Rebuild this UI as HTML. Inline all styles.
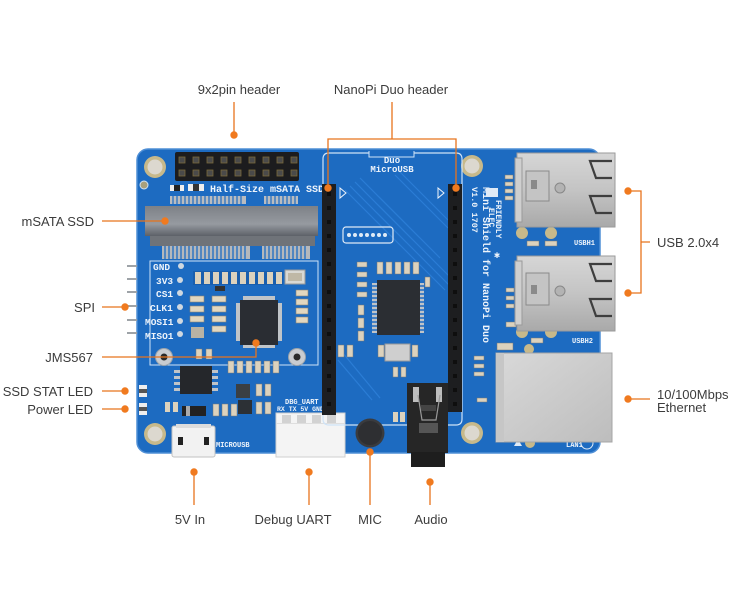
<!DOCTYPE html>
<html><head><meta charset="utf-8"><style>
html,body{margin:0;padding:0;background:#fff;}
svg{display:block;}
.lb{font-family:"Liberation Sans",sans-serif;font-size:13px;fill:#3c3c3c;}
.sk{font-family:"Liberation Mono",monospace;font-weight:bold;fill:#eef4fb;}
</style></head><body>
<svg width="740" height="600" viewBox="0 0 740 600" xmlns="http://www.w3.org/2000/svg">
<defs>
<linearGradient id="metal" x1="0" y1="0" x2="0" y2="1">
<stop offset="0" stop-color="#d6d6d6"/><stop offset="0.5" stop-color="#c4c4c4"/><stop offset="1" stop-color="#a9a9a9"/>
</linearGradient>
<linearGradient id="eth" x1="0" y1="0" x2="1" y2="1">
<stop offset="0" stop-color="#d9d9d9"/><stop offset="1" stop-color="#bdbdbd"/>
</linearGradient>
<linearGradient id="msata" x1="0" y1="0" x2="0" y2="1">
<stop offset="0" stop-color="#7d8187"/><stop offset="0.6" stop-color="#969aa0"/><stop offset="1" stop-color="#5d6168"/>
</linearGradient>
</defs>
<rect width="740" height="600" fill="#fff"/>

<!-- board -->
<rect x="137" y="149" width="463" height="304" rx="11" fill="#1d6bc1" stroke="#4f8fd6" stroke-width="1.5"/>
<!-- diagonal traces -->
<g stroke="#2f82db" stroke-width="1.2" opacity="0.8">
<line x1="345" y1="190" x2="445" y2="290"/><line x1="350" y1="186" x2="450" y2="286"/><line x1="355" y1="182" x2="455" y2="282"/>
<line x1="360" y1="178" x2="440" y2="258"/><line x1="395" y1="175" x2="448" y2="228"/><line x1="400" y1="172" x2="448" y2="220"/>
<line x1="338" y1="360" x2="372" y2="400"/><line x1="342" y1="352" x2="380" y2="398"/>
</g>

<!-- side SPI pins -->
<g fill="#9ea3a8">
<rect x="127" y="265" width="10" height="2"/><rect x="127" y="278" width="10" height="2"/><rect x="127" y="291" width="10" height="2"/>
<rect x="127" y="305" width="10" height="2"/><rect x="127" y="319" width="10" height="2"/><rect x="127" y="332" width="10" height="2"/>
</g>

<!-- mounting holes -->
<g>
<circle cx="155" cy="167" r="11" fill="#c7b98b"/><circle cx="155" cy="167" r="7.5" fill="#dcd8cf"/>
<circle cx="472" cy="166" r="11" fill="#c7b98b"/><circle cx="472" cy="166" r="7.5" fill="#dcd8cf"/>
<circle cx="155" cy="434" r="11" fill="#c7b98b"/><circle cx="155" cy="434" r="7.5" fill="#dcd8cf"/>
<circle cx="472" cy="433" r="11" fill="#c7b98b"/><circle cx="472" cy="433" r="7.5" fill="#dcd8cf"/>
<circle cx="144" cy="185" r="4" fill="#a8a07c" stroke="#cfe3f7" stroke-width="1"/>
</g>

<!-- 9x2 header -->
<rect x="175" y="152" width="124" height="29" rx="2" fill="#1c1c1e"/>
<g fill="#4a4a4a" stroke="#7a6a3a" stroke-width="0.8">
<rect x="179" y="157" width="6" height="6"/><rect x="193" y="157" width="6" height="6"/><rect x="207" y="157" width="6" height="6"/><rect x="221" y="157" width="6" height="6"/><rect x="235" y="157" width="6" height="6"/><rect x="249" y="157" width="6" height="6"/><rect x="263" y="157" width="6" height="6"/><rect x="277" y="157" width="6" height="6"/><rect x="291" y="157" width="6" height="6"/>
<rect x="179" y="170" width="6" height="6"/><rect x="193" y="170" width="6" height="6"/><rect x="207" y="170" width="6" height="6"/><rect x="221" y="170" width="6" height="6"/><rect x="235" y="170" width="6" height="6"/><rect x="249" y="170" width="6" height="6"/><rect x="263" y="170" width="6" height="6"/><rect x="277" y="170" width="6" height="6"/><rect x="291" y="170" width="6" height="6"/>
</g>
<text x="210" y="192" class="sk" font-size="10">Half-Size mSATA SSD</text>
<g><rect x="170" y="185" width="14" height="6" fill="#eee"/><rect x="174" y="185" width="6" height="6" fill="#222"/>
<rect x="188" y="184" width="16" height="7" fill="#eee"/><rect x="193" y="184" width="6" height="7" fill="#333"/></g>

<!-- mSATA connector -->
<g fill="#b9bcc0">
<rect x="170" y="196" width="76" height="8"/><rect x="264" y="196" width="34" height="8"/>
</g>
<g stroke="#1d6bc1" stroke-width="1.2">
<path d="M173 196v8M177 196v8M181 196v8M185 196v8M189 196v8M193 196v8M197 196v8M201 196v8M205 196v8M209 196v8M213 196v8M217 196v8M221 196v8M225 196v8M229 196v8M233 196v8M237 196v8M241 196v8M267 196v8M271 196v8M275 196v8M279 196v8M283 196v8M287 196v8M291 196v8M295 196v8"/>
</g>
<rect x="145" y="206" width="173" height="30" fill="url(#msata)"/>
<rect x="150" y="236" width="165" height="10" fill="#6f7379"/>
<g fill="#b5b8bc">
<rect x="162" y="246" width="88" height="13"/><rect x="262" y="246" width="48" height="13"/>
</g>
<g stroke="#1d6bc1" stroke-width="1.3">
<path d="M165 246v13M169 246v13M173 246v13M177 246v13M181 246v13M185 246v13M189 246v13M193 246v13M197 246v13M201 246v13M205 246v13M209 246v13M213 246v13M217 246v13M221 246v13M225 246v13M229 246v13M233 246v13M237 246v13M241 246v13M245 246v13M265 246v13M269 246v13M273 246v13M277 246v13M281 246v13M285 246v13M289 246v13M293 246v13M297 246v13M301 246v13M305 246v13"/>
</g>

<!-- silkscreen box around JMS area -->
<rect x="150" y="261" width="168" height="104" fill="none" stroke="#cfe3f7" stroke-width="1"/>

<!-- SPI labels -->
<g class="sk" font-size="9.5">
<text x="153" y="270">GND</text><text x="156" y="284">3V3</text><text x="156" y="297">CS1</text>
<text x="150" y="311">CLK1</text><text x="145" y="325">MOSI1</text><text x="145" y="339">MISO1</text>
</g>
<g fill="#cfd8e0">
<circle cx="181" cy="266" r="3"/><circle cx="180" cy="280" r="3"/><circle cx="180" cy="293" r="3"/>
<circle cx="180" cy="307" r="3"/><circle cx="180" cy="321" r="3"/><circle cx="180" cy="334" r="3"/>
</g>

<!-- passive row under mSATA -->
<g>
<rect x="193" y="271" width="90" height="14" fill="#1a5fae"/>
<g fill="#dcd2bd">
<rect x="195" y="272" width="6" height="12"/><rect x="204" y="272" width="6" height="12"/><rect x="213" y="272" width="6" height="12"/><rect x="222" y="272" width="6" height="12"/><rect x="231" y="272" width="6" height="12"/><rect x="240" y="272" width="6" height="12"/><rect x="249" y="272" width="6" height="12"/><rect x="258" y="272" width="6" height="12"/><rect x="267" y="272" width="6" height="12"/><rect x="276" y="272" width="6" height="12"/>
</g>
<rect x="285" y="270" width="20" height="14" fill="#d9d9d4" stroke="#999"/>
<rect x="288" y="273" width="14" height="8" fill="#bfb8a6"/>
</g>
<!-- left caps column -->
<g fill="#e2d7bf" stroke="#8a8577" stroke-width="0.6">
<rect x="190" y="296" width="14" height="6"/><rect x="190" y="306" width="14" height="6"/><rect x="190" y="316" width="14" height="6"/>
<rect x="212" y="296" width="14" height="6"/><rect x="212" y="306" width="14" height="6"/><rect x="212" y="316" width="14" height="6"/><rect x="212" y="326" width="14" height="6"/>
<rect x="296" y="290" width="12" height="6"/><rect x="296" y="299" width="12" height="6"/><rect x="296" y="308" width="12" height="6"/><rect x="296" y="317" width="12" height="6"/>
</g>
<rect x="191" y="327" width="13" height="11" fill="#b8b2a4"/>
<rect x="215" y="286" width="10" height="5" fill="#333"/>

<!-- JMS567 QFP -->
<g>
<g fill="#c0c4c8">
<rect x="236" y="303" width="46" height="38"/><rect x="243" y="296" width="32" height="52"/>
</g>
<rect x="240" y="300" width="38" height="45" fill="#2a2d33"/>
</g>
<circle cx="256" cy="343" r="3.5" fill="#f07a1f"/>

<!-- screw holes -->
<circle cx="164" cy="357" r="8.5" fill="#c9ccd0" stroke="#9ba3ab"/><circle cx="164" cy="357" r="3.5" fill="#2a2a2a"/>
<circle cx="297" cy="357" r="8.5" fill="#c9ccd0" stroke="#9ba3ab"/><circle cx="297" cy="357" r="3.5" fill="#2a2a2a"/>

<!-- resistors below QFP -->
<g fill="#dcd2bd" stroke="#777" stroke-width="0.5">
<rect x="228" y="361" width="6" height="12"/><rect x="237" y="361" width="6" height="12"/><rect x="246" y="361" width="6" height="12"/><rect x="255" y="361" width="6" height="12"/><rect x="264" y="361" width="6" height="12"/><rect x="273" y="361" width="6" height="12"/>
<rect x="196" y="349" width="6" height="10"/><rect x="206" y="349" width="6" height="10"/>
</g>

<!-- U3 -->
<g fill="#c0c4c8"><rect x="174" y="370" width="44" height="3"/><rect x="174" y="376" width="44" height="3"/><rect x="174" y="382" width="44" height="3"/><rect x="174" y="388" width="44" height="3"/></g>
<rect x="180" y="366" width="32" height="28" fill="#25272b"/>

<!-- LEDs -->
<rect x="139" y="385" width="8" height="12" fill="#eeeeee"/><rect x="139" y="389" width="8" height="4" fill="#555"/>
<rect x="139" y="403" width="8" height="12" fill="#eeeeee"/><rect x="139" y="407" width="8" height="4" fill="#555"/>
<g fill="#dcd2bd"><rect x="165" y="402" width="5" height="10"/><rect x="173" y="402" width="5" height="10"/></g>
<!-- D1 -->
<rect x="182" y="406" width="24" height="10" fill="#222"/><rect x="186" y="406" width="4" height="10" fill="#aaa"/>

<!-- L2/U1 area -->
<g fill="#dcd2bd" stroke="#777" stroke-width="0.5">
<rect x="213" y="404" width="6" height="12"/><rect x="222" y="404" width="6" height="12"/><rect x="231" y="404" width="6" height="12"/>
<rect x="256" y="384" width="6" height="12"/><rect x="265" y="384" width="6" height="12"/>
<rect x="256" y="402" width="6" height="12"/><rect x="265" y="402" width="6" height="12"/>
</g>
<rect x="236" y="384" width="14" height="14" fill="#3a3f44"/>
<rect x="238" y="400" width="14" height="14" fill="#2c3035"/>

<!-- micro USB -->
<rect x="172" y="426" width="43" height="31" rx="2" fill="#f2f2f2" stroke="#c2c2c2"/>
<rect x="176" y="424" width="35" height="4" fill="#dcdcdc"/>
<rect x="178" y="437" width="5" height="8" fill="#222"/><rect x="204" y="437" width="5" height="8" fill="#222"/>
<text x="216" y="447" class="sk" font-size="7">MICROUSB</text>

<!-- Debug UART -->
<text x="285" y="404" class="sk" font-size="7">DBG_UART</text>
<text x="277" y="411" class="sk" font-size="6.5">RX TX 5V GND</text>
<rect x="276" y="413" width="69" height="44" fill="#f4f4f4" stroke="#cfcfcf"/>
<g fill="#d2d2d2"><rect x="282" y="415" width="9" height="8"/><rect x="297" y="415" width="9" height="8"/><rect x="312" y="415" width="9" height="8"/><rect x="327" y="415" width="9" height="8"/></g>
<rect x="276" y="423" width="69" height="1" fill="#dedede"/>

<!-- Duo outline -->
<path d="M369 153 H329 Q323 153 323 159 V419 Q323 425 329 425 H456 Q462 425 462 419 V159 Q462 153 456 153 H414" fill="none" stroke="#cfe3f7" stroke-width="1.2"/>
<path d="M369 151 V157 H414 V151" fill="none" stroke="#cfe3f7" stroke-width="1"/>
<text x="392" y="163" class="sk" font-size="9" text-anchor="middle">Duo</text>
<text x="392" y="172" class="sk" font-size="9" text-anchor="middle">MicroUSB</text>
<path d="M340 188 l6 5 l-6 5 z" fill="none" stroke="#eef4fb" stroke-width="1"/>
<path d="M438 188 l6 5 l-6 5 z" fill="none" stroke="#eef4fb" stroke-width="1"/>

<!-- Duo headers -->
<rect x="322" y="184" width="14" height="231" fill="#1d1e20"/>
<rect x="448" y="184" width="14" height="228" fill="#1d1e20"/>
<g fill="#0e0e0e">
<rect x="327" y="192" width="4" height="4"/><rect x="327" y="206" width="4" height="4"/><rect x="327" y="220" width="4" height="4"/><rect x="327" y="234" width="4" height="4"/><rect x="327" y="248" width="4" height="4"/><rect x="327" y="262" width="4" height="4"/><rect x="327" y="276" width="4" height="4"/><rect x="327" y="290" width="4" height="4"/><rect x="327" y="304" width="4" height="4"/><rect x="327" y="318" width="4" height="4"/><rect x="327" y="332" width="4" height="4"/><rect x="327" y="346" width="4" height="4"/><rect x="327" y="360" width="4" height="4"/><rect x="327" y="374" width="4" height="4"/><rect x="327" y="388" width="4" height="4"/><rect x="327" y="402" width="4" height="4"/>
<rect x="453" y="192" width="4" height="4"/><rect x="453" y="206" width="4" height="4"/><rect x="453" y="220" width="4" height="4"/><rect x="453" y="234" width="4" height="4"/><rect x="453" y="248" width="4" height="4"/><rect x="453" y="262" width="4" height="4"/><rect x="453" y="276" width="4" height="4"/><rect x="453" y="290" width="4" height="4"/><rect x="453" y="304" width="4" height="4"/><rect x="453" y="318" width="4" height="4"/><rect x="453" y="332" width="4" height="4"/><rect x="453" y="346" width="4" height="4"/><rect x="453" y="360" width="4" height="4"/><rect x="453" y="374" width="4" height="4"/><rect x="453" y="388" width="4" height="4"/><rect x="453" y="402" width="4" height="4"/>
</g>

<!-- center components -->
<rect x="343" y="227" width="50" height="16" rx="3" fill="none" stroke="#dfeaf6" stroke-width="1.2"/>
<g fill="#dfeaf6"><circle cx="349" cy="235" r="2"/><circle cx="355" cy="235" r="2"/><circle cx="361" cy="235" r="2"/><circle cx="367" cy="235" r="2"/><circle cx="373" cy="235" r="2"/><circle cx="379" cy="235" r="2"/><circle cx="385" cy="235" r="2"/></g>
<g fill="#dcd2bd" stroke="#777" stroke-width="0.5">
<rect x="357" y="262" width="10" height="5"/><rect x="357" y="272" width="10" height="5"/><rect x="357" y="282" width="10" height="5"/><rect x="357" y="292" width="10" height="5"/>
<rect x="358" y="305" width="6" height="10"/><rect x="358" y="318" width="6" height="10"/><rect x="358" y="331" width="6" height="10"/>
<rect x="377" y="262" width="6" height="12"/><rect x="386" y="262" width="6" height="12"/><rect x="395" y="262" width="6" height="12"/><rect x="404" y="262" width="6" height="12"/><rect x="413" y="262" width="6" height="12"/>
<rect x="425" y="277" width="5" height="10"/>
<rect x="378" y="345" width="6" height="12"/><rect x="412" y="345" width="6" height="12"/>
<rect x="393" y="367" width="5" height="10"/><rect x="401" y="367" width="5" height="10"/>
<rect x="347" y="345" width="6" height="12"/><rect x="338" y="345" width="6" height="12"/>
</g>
<rect x="385" y="344" width="25" height="17" fill="#cfcfcf" stroke="#999"/>
<!-- U4 -->
<g fill="#c0c4c8"><rect x="372" y="283" width="52" height="50"/></g>
<g stroke="#1d6bc1" stroke-width="1.5"><path d="M372 286h5M372 290h5M372 294h5M372 298h5M372 302h5M372 306h5M372 310h5M372 314h5M372 318h5M372 322h5M372 326h5M372 330h5M419 286h5M419 290h5M419 294h5M419 298h5M419 302h5M419 306h5M419 310h5M419 314h5M419 318h5M419 322h5M419 326h5M419 330h5"/></g>
<rect x="377" y="280" width="43" height="55" fill="#2b2e33"/>

<!-- MIC -->
<circle cx="370" cy="433" r="14.5" fill="#3a3b3e"/>
<circle cx="370" cy="433" r="12" fill="#2e2f32"/>
<g fill="#dcd2bd"><rect x="393" y="412" width="5" height="10"/><rect x="400" y="412" width="5" height="10"/></g>

<!-- audio jack -->
<rect x="407" y="383" width="41" height="70" fill="#262626"/>
<rect x="411" y="452" width="34" height="15" fill="#1e1e1e"/>
<rect x="413" y="387" width="6" height="15" fill="#bdbdbd"/><rect x="436" y="387" width="6" height="15" fill="#bdbdbd"/>
<path d="M418 395 L422 420 L436 420 L440 395" fill="none" stroke="#999" stroke-width="1.2"/>
<rect x="421" y="405" width="15" height="6" fill="#444"/>
<rect x="419" y="423" width="19" height="10" fill="#555"/>

<!-- rotated board text -->
<text transform="translate(483,187) rotate(90)" class="sk" font-size="10">Mini Shield for NanoPi Duo</text>
<text transform="translate(472,187) rotate(90)" class="sk" font-size="8.5">V1.0 1707</text>
<text transform="translate(496,200) rotate(90)" class="sk" font-size="8">FRIENDLY</text>
<text transform="translate(489,208) rotate(90)" class="sk" font-size="8">ELEC</text>
<rect x="486" y="188" width="12" height="9" fill="#dfeaf6"/>
<text x="494" y="258" class="sk" font-size="10">✱</text>

<!-- small comps near USB -->
<g fill="#dcd2bd" stroke="#777" stroke-width="0.5">
<rect x="505" y="175" width="8" height="4"/><rect x="505" y="182" width="8" height="4"/><rect x="505" y="189" width="8" height="4"/><rect x="505" y="196" width="8" height="4"/>
<rect x="506" y="288" width="8" height="4"/><rect x="506" y="296" width="8" height="4"/><rect x="506" y="304" width="8" height="4"/><rect x="506" y="322" width="10" height="5"/>
<rect x="527" y="241" width="12" height="5"/><rect x="545" y="241" width="12" height="5"/>
<rect x="531" y="338" width="12" height="5"/>
<rect x="497" y="343" width="16" height="7"/>
<rect x="474" y="356" width="10" height="4"/><rect x="474" y="364" width="10" height="4"/><rect x="474" y="372" width="10" height="4"/><rect x="477" y="398" width="10" height="4"/>
</g>
<g fill="#c7b98b"><circle cx="522" cy="233" r="6"/><circle cx="551" cy="233" r="6"/><circle cx="522" cy="332" r="6"/><circle cx="551" cy="332" r="6"/><circle cx="529" cy="349" r="5"/><circle cx="530" cy="443" r="5"/></g>
<text x="574" y="245" class="sk" font-size="7">USBH1</text>
<text x="572" y="343" class="sk" font-size="7">USBH2</text>
<text x="566" y="447" class="sk" font-size="7">LAN1</text>
<circle cx="587" cy="443" r="6" fill="none" stroke="#dfeaf6"/>
<path d="M514 446 l4 -7 l4 7 z" fill="#dfeaf6"/>

<!-- USB ports -->
<g>
<rect x="517" y="153" width="98" height="74" fill="url(#metal)" stroke="#9a9a9a"/>
<rect x="515" y="158" width="7" height="64" fill="#cfcfcf" stroke="#9a9a9a"/>
<rect x="526" y="171" width="23" height="30" fill="#c4c4c4" stroke="#8a8a8a"/>
<rect x="531" y="180" width="6" height="9" fill="#8a8a8a"/>
<circle cx="560" cy="188" r="5" fill="#b3b3b3" stroke="#888"/>
<path d="M612 161 H590 L596 178 H612 M612 196 H590 L596 213 H612" fill="none" stroke="#3e3e3e" stroke-width="2.2"/>
</g>
<g>
<rect x="517" y="256" width="98" height="75" fill="url(#metal)" stroke="#9a9a9a"/>
<rect x="515" y="261" width="7" height="64" fill="#cfcfcf" stroke="#9a9a9a"/>
<rect x="526" y="273" width="23" height="32" fill="#c4c4c4" stroke="#8a8a8a"/>
<rect x="531" y="285" width="6" height="9" fill="#8a8a8a"/>
<circle cx="560" cy="291" r="5" fill="#b3b3b3" stroke="#888"/>
<path d="M612 264 H590 L596 281 H612 M612 299 H590 L596 316 H612" fill="none" stroke="#3e3e3e" stroke-width="2.2"/>
</g>

<!-- Ethernet -->
<rect x="496" y="353" width="116" height="89" fill="url(#eth)" stroke="#a5a5a5"/>
<rect x="496" y="353" width="8" height="89" fill="#c6c6c6"/>

<!-- ========== annotations ========== -->
<g stroke="#e8741c" stroke-width="1.3" fill="none">
<line x1="234" y1="102" x2="234" y2="135"/>
<path d="M392 102 V139 M328 188 V139 H456 V188"/>
<line x1="102" y1="221" x2="165" y2="221"/>
<line x1="102" y1="307" x2="125" y2="307"/>
<path d="M102 357 H256 V343"/>
<line x1="102" y1="391" x2="125" y2="391"/>
<line x1="102" y1="409" x2="125" y2="409"/>
<line x1="194" y1="472" x2="194" y2="505"/>
<line x1="309" y1="472" x2="309" y2="505"/>
<line x1="370" y1="452" x2="370" y2="505"/>
<line x1="430" y1="482" x2="430" y2="505"/>
<line x1="628" y1="399" x2="650" y2="399"/>
<path d="M628 191 H641 V293 H628 M641 242 H650"/>
</g>
<g fill="#f07a1f">
<circle cx="234" cy="135" r="3.7"/>
<circle cx="328" cy="188" r="3.7"/><circle cx="456" cy="188" r="3.7"/>
<circle cx="165" cy="221" r="3.7"/>
<circle cx="125" cy="307" r="3.7"/>
<circle cx="256" cy="343" r="3.7"/>
<circle cx="125" cy="391" r="3.7"/><circle cx="125" cy="409" r="3.7"/>
<circle cx="194" cy="472" r="3.7"/><circle cx="309" cy="472" r="3.7"/>
<circle cx="370" cy="452" r="3.7"/><circle cx="430" cy="482" r="3.7"/>
<circle cx="628" cy="399" r="3.7"/>
<circle cx="628" cy="191" r="3.7"/><circle cx="628" cy="293" r="3.7"/>
</g>

<text x="239" y="94" class="lb" text-anchor="middle">9x2pin header</text>
<text x="391" y="94" class="lb" text-anchor="middle">NanoPi Duo header</text>
<text x="94" y="226" class="lb" text-anchor="end">mSATA SSD</text>
<text x="95" y="312" class="lb" text-anchor="end">SPI</text>
<text x="93" y="362" class="lb" text-anchor="end">JMS567</text>
<text x="93" y="396" class="lb" text-anchor="end">SSD STAT LED</text>
<text x="93" y="414" class="lb" text-anchor="end">Power LED</text>
<text x="190" y="524" class="lb" text-anchor="middle">5V In</text>
<text x="293" y="524" class="lb" text-anchor="middle">Debug UART</text>
<text x="370" y="524" class="lb" text-anchor="middle">MIC</text>
<text x="431" y="524" class="lb" text-anchor="middle">Audio</text>
<text x="657" y="399" class="lb">10/100Mbps</text>
<text x="657" y="412" class="lb">Ethernet</text>
<text x="657" y="247" class="lb">USB 2.0x4</text>
</svg>
</body></html>
